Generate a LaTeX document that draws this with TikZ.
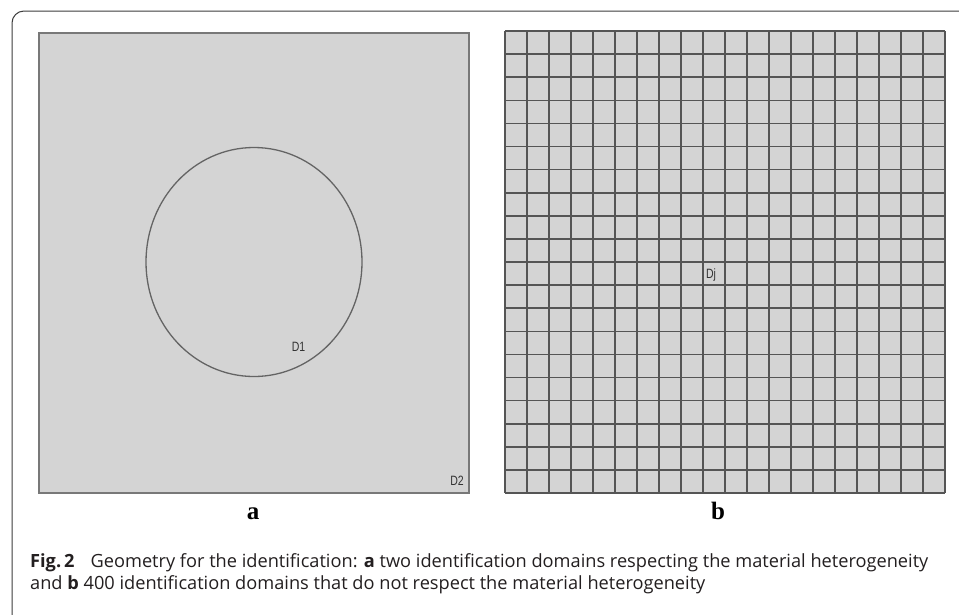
\documentclass[tikz,border=0pt]{standalone}
\usepackage{fontspec}
\setmainfont{Open Sans}
\newfontfamily\capfont{Open Sans}
\newfontfamily\sublabfont{Liberation Serif}
\newfontfamily\dfont{Liberation Sans}
\definecolor{panelgray}{RGB}{212,212,212}
\definecolor{gridline}{RGB}{85,85,85}
\definecolor{borderA}{RGB}{120,120,120}
\definecolor{circline}{RGB}{100,100,100}
\definecolor{framecol}{RGB}{60,60,60}
\definecolor{capcol}{RGB}{35,31,32}
\tikzset{
  frameline/.style={draw=framecol, line width=1pt},
  panelbox/.style={fill=panelgray, draw=borderA, line width=1.6pt},
  circline/.style={draw=circline, line width=1.3pt},
  gridfill/.style={fill=panelgray},
  gridrule/.style={draw=gridline, line width=1.6pt},
  dlab/.style={inner sep=0pt, font=\dfont\fontsize{13.5}{13.5}\selectfont, text=black!80},
  sublab/.style={inner sep=0pt, anchor=base, font=\sublabfont\bfseries\fontsize{25}{25}\selectfont},
  captext/.style={inner sep=0pt, anchor=base west, text=capcol, font=\capfont\fontsize{18.2}{21}\selectfont}
}
\begin{document}
\begin{tikzpicture}[x=1pt,y=-1pt]
\useasboundingbox (0,0) rectangle (959,614);
\fill[white] (0,0) rectangle (959,614);
% outer frame (runs past right and bottom edges)
\draw[frameline, rounded corners=12pt] (12,11) rectangle (990,650);
% panel a
\draw[panelbox] (39,33) rectangle (469,493);
\draw[circline] (254,262) ellipse [x radius=108pt, y radius=114.5pt];
\node[dlab] (d1) at (298.5,347) {\scalebox{0.78}[1]{D1}};
\node[dlab] (d2) at (457,480.5) {\scalebox{0.78}[1]{D2}};
% panel b
\fill[gridfill] (505,31) rectangle (945,493);
\foreach \i in {0,...,20}{
  \draw[gridrule] ({505+22*\i},31) -- ({505+22*\i},493);
  \draw[gridrule] (505,{31+23.1*\i}) -- (945,{31+23.1*\i});
}
\node[dlab] (dj) at (711,275) {\scalebox{0.78}[1]{Dj}};
% sub labels
\node[sublab] (la) at (253,519) {a};
\node[sublab] (lb) at (718,519) {b};
% caption
\node[captext] (cap1) at (30,567) {\textbf{Fig.\,2}\hspace{16pt}Geometry for the identification: \textbf{a} two identification domains respecting the material heterogeneity};
\node[captext] (cap2) at (30,589) {and \textbf{b} 400 identification domains that do not respect the material heterogeneity};
\end{tikzpicture}
\end{document}
